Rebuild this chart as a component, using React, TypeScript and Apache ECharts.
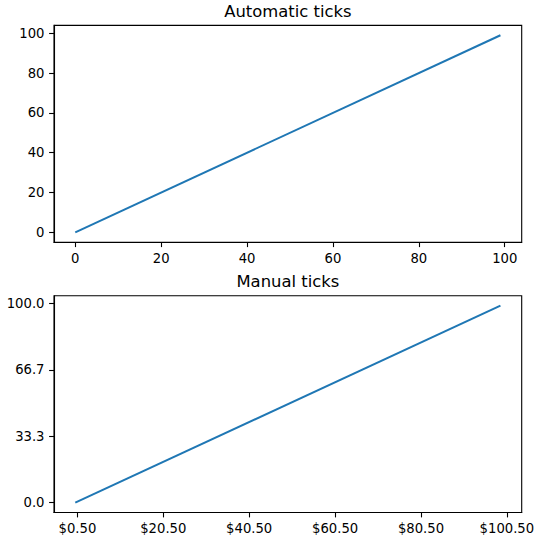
import { useEffect, useRef } from 'react'
import * as echarts from 'echarts'

// the plotted line (y = x, drawn between its endpoints)
const xValues = [0, 99]
const yValues = [0, 99]

// top subplot: automatic ticks
const autoTicks = [0, 20, 40, 60, 80, 100]

// bottom subplot: manual ticks
const manualXTicks = [0.5, 20.5, 40.5, 60.5, 80.5, 100.5]
const manualXLabels = ['$0.50', '$20.50', '$40.50', '$60.50', '$80.50', '$100.50']
const manualYTicks = [0, 100 / 3, 200 / 3, 100]
const manualYLabels = ['0.0', '33.3', '66.7', '100.0']

const titles = ['Automatic ticks', 'Manual ticks']

const FONT = 'DejaVu Sans'
const LINE = '#1f77b4'
const AX_MIN = -4.95
const AX_MAX = 103.95

// axes boxes, in pixels
const AX_LEFT = 54
const AX_RIGHT = 521.7
const AX_TOPS = [25.4, 295.7]
const AX_HEIGHT = 216.8

function labelFor(ticks: number[], labels: string[]) {
  return (v: number) => {
    let best = 0
    ticks.forEach((t, i) => {
      if (Math.abs(t - v) < Math.abs(ticks[best] - v)) best = i
    })
    return labels[best]
  }
}

function axis(gridIndex: number, ticks: number[], labels: string[]) {
  return {
    type: 'value' as const,
    gridIndex,
    min: AX_MIN,
    max: AX_MAX,
    splitLine: { show: false },
    axisLine: { show: true, onZero: false, lineStyle: { color: '#000', width: 1.1 } },
    axisTick: {
      show: true,
      customValues: ticks,
      length: 4.9,
      lineStyle: { color: '#000', width: 1.1 },
    },
    axisLabel: {
      customValues: ticks,
      formatter: labelFor(ticks, labels),
      margin: 9.5,
      color: '#000',
      fontFamily: FONT,
      fontSize: 13.2,
      showMinLabel: true,
      showMaxLabel: true,
      hideOverlap: false,
    },
  }
}

export default function App() {
  const ref = useRef<HTMLDivElement>(null)

  useEffect(() => {
    if (!ref.current) {
      return
    }
    const chart = echarts.init(ref.current, undefined, { renderer: 'svg' })
    const points = xValues.map((x, i) => [x, yValues[i]])
    const autoLabels = autoTicks.map(String)

    chart.setOption({
      animation: false,
      graphic: titles.map((text, i) => ({
        type: 'text',
        x: (AX_LEFT + AX_RIGHT) / 2,
        y: AX_TOPS[i] - 22.4,
        style: {
          text,
          align: 'center',
          verticalAlign: 'top',
          fontFamily: FONT,
          fontSize: 16.4,
          fill: '#000',
        },
      })),
      grid: AX_TOPS.map((top) => ({
        left: AX_LEFT,
        right: 540 - AX_RIGHT,
        top,
        height: AX_HEIGHT,
        show: true,
        borderColor: '#000',
        borderWidth: 1.1,
      })),
      xAxis: [axis(0, autoTicks, autoLabels), axis(1, manualXTicks, manualXLabels)],
      yAxis: [axis(0, autoTicks, autoLabels), axis(1, manualYTicks, manualYLabels)],
      series: [0, 1].map((i) => ({
        type: 'line' as const,
        xAxisIndex: i,
        yAxisIndex: i,
        data: points,
        showSymbol: false,
        lineStyle: { color: LINE, width: 2 },
      })),
    })

    return () => {
      chart.dispose()
    }
  }, [])

  return (
    <div
      ref={ref}
      style={{ position: 'fixed', left: 0, top: 0, width: 540, height: 540, background: '#fff' }}
    />
  )
}
